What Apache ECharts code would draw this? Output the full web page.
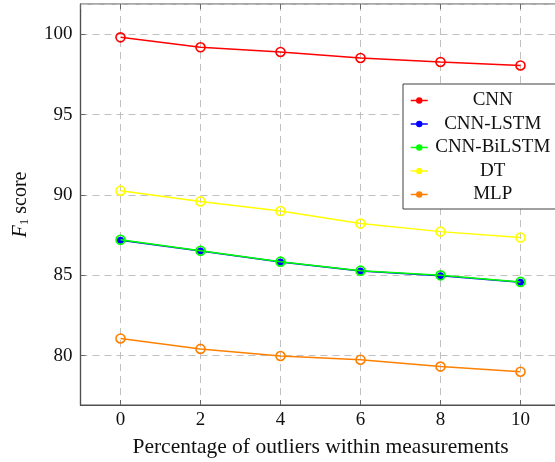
<!DOCTYPE html>
<html>
<head>
<meta charset="utf-8">
<script src="https://cdn.jsdelivr.net/npm/echarts@6/dist/echarts.min.js"></script>
<style>html,body{margin:0;padding:0;background:#fff;}#c{width:555px;height:462px;}</style>
</head>
<body>
<div id="c"></div>
<script>
const categories = [0, 2, 4, 6, 8, 10];
const seriesNames = ['CNN', 'CNN-LSTM', 'CNN-BiLSTM', 'DT', 'MLP'];
const cnn = [99.81, 99.19, 98.90, 98.53, 98.28, 98.06];
const cnnLstm = [87.19, 86.51, 85.83, 85.27, 84.98, 84.57];
const cnnBiLstm = [87.21, 86.53, 85.85, 85.29, 85.00, 84.59];
const dt = [90.27, 89.60, 89.00, 88.22, 87.72, 87.35];
const mlp = [81.07, 80.42, 79.98, 79.75, 79.32, 79.00];
const colors = ['#ff0000', '#0000ff', '#00ff00', '#ffff00', '#ff8000'];

const FONT = 'Liberation Serif';
const values = [cnn, cnnLstm, cnnBiLstm, dt, mlp];
const pts = v => categories.map((x, i) => [x, v[i]]);

function makeSeries(i) {
  const c = colors[i];
  const filled = (i === 1);
  return {
    name: seriesNames[i],
    type: 'line',
    data: pts(values[i]),
    symbol: 'circle',
    symbolSize: filled ? 7 : 9,
    showSymbol: true,
    lineStyle: { color: c, width: 1.5 },
    itemStyle: filled ? { color: c, borderWidth: 0 } : { color: 'rgba(0,0,0,0)', borderColor: c, borderWidth: 1.6 },
    emphasis: { disabled: true },
    z: 2 + i,
    animation: false
  };
}

const chart = echarts.init(document.getElementById('c'), null, { renderer: 'canvas' });
chart.setOption({
  animation: false,
  backgroundColor: '#fff',
  grid: {
    left: 80.5, right: -5.5, top: 4, bottom: 57,
    outerBoundsMode: 'none', containLabel: false,
    show: true, borderColor: '#505050', borderWidth: 1.2, backgroundColor: 'transparent'
  },
  legend: {
    left: 403, top: 84,
    orient: 'vertical',
    backgroundColor: '#fff',
    borderColor: '#404040', borderWidth: 1,
    borderRadius: 0,
    padding: [7, 16, 5, 7],
    itemGap: 4.5,
    itemWidth: 17, itemHeight: 8,
    selectedMode: false,
    data: seriesNames.map((n, i) => ({ name: n, itemStyle: { color: colors[i], borderColor: colors[i], borderWidth: 0 }, lineStyle: { color: colors[i], width: 1.5 } })),
    formatter: n => '{a|' + n + '}',
    textStyle: {
      fontFamily: FONT, fontSize: 19, color: '#111',
      rich: { a: { fontFamily: FONT, fontSize: 19, width: 120, align: 'center', lineHeight: 19, color: '#111' } }
    }
  },
  xAxis: [{
    type: 'value', min: -1, max: 11, splitNumber: 5,
    axisLine: { show: true, onZero: false, lineStyle: { color: '#505050', width: 1.2 } },
    axisTick: { show: true, inside: true, length: 5, lineStyle: { color: '#666' } },
    axisLabel: { showMinLabel: false, showMaxLabel: false, fontFamily: FONT, fontSize: 19, color: '#111', margin: 6 },
    splitLine: { show: true, lineStyle: { color: '#c0c0c0', type: [7, 5], width: 1 } },
    name: 'Percentage of outliers within measurements',
    nameLocation: 'middle', nameGap: 31,
    nameTextStyle: { fontFamily: FONT, fontSize: 21.5, color: '#111' }
  }, {
    type: 'value', min: -1, max: 11, splitNumber: 5, position: 'top',
    axisLine: { show: false, onZero: false },
    axisTick: { show: true, inside: true, length: 5, lineStyle: { color: '#666' } },
    axisLabel: { show: false },
    splitLine: { show: false }
  }],
  yAxis: {
    type: 'value', min: 76.93, max: 101.886, splitNumber: 5,
    axisLine: { show: true, onZero: false, lineStyle: { color: '#505050', width: 1.2 } },
    axisTick: { show: true, inside: true, length: 5, lineStyle: { color: '#666' } },
    axisLabel: { showMinLabel: false, showMaxLabel: false, fontFamily: FONT, fontSize: 19, color: '#111', margin: 8 },
    splitLine: { show: true, lineStyle: { color: '#c0c0c0', type: [7, 5], width: 1 } },
    name: '{f|F}{s|1} score',
    nameLocation: 'middle', nameGap: 49,
    nameTextStyle: {
      fontFamily: FONT, fontSize: 20, color: '#111',
      rich: {
        f: { fontFamily: FONT, fontSize: 20, fontStyle: 'italic', color: '#111' },
        s: { fontFamily: FONT, fontSize: 13, color: '#111', padding: [9, 0, 0, 0] }
      }
    }
  },
  series: [0, 1, 2, 3, 4].map(makeSeries)
});
</script>
</body>
</html>
